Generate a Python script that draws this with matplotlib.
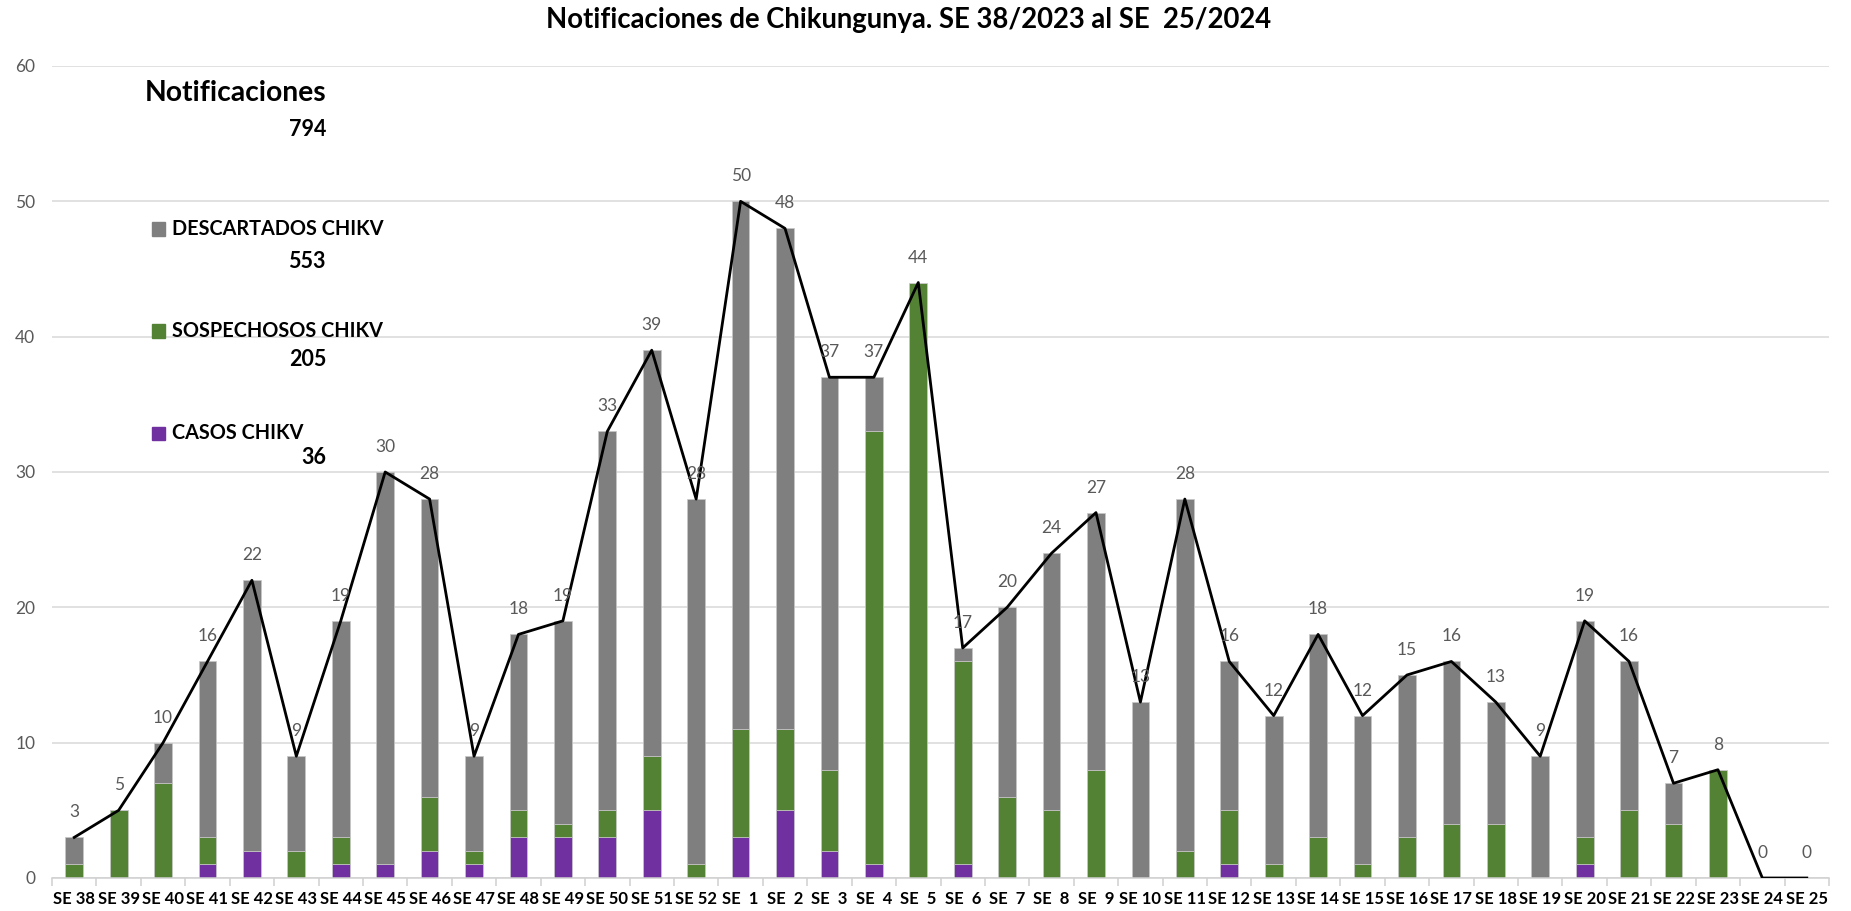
import numpy as np
import matplotlib.pyplot as plt
from matplotlib.ticker import FixedLocator

plt.rcParams['font.family'] = ['Lato', 'DejaVu Sans']

# semanas epidemiologicas
semanas = ['SE 38', 'SE 39', 'SE 40', 'SE 41', 'SE 42', 'SE 43', 'SE 44', 'SE 45',
           'SE 46', 'SE 47', 'SE 48', 'SE 49', 'SE 50', 'SE 51', 'SE 52', 'SE  1',
           'SE  2', 'SE  3', 'SE  4', 'SE  5', 'SE  6', 'SE  7', 'SE  8', 'SE  9',
           'SE 10', 'SE 11', 'SE 12', 'SE 13', 'SE 14', 'SE 15', 'SE 16', 'SE 17',
           'SE 18', 'SE 19', 'SE 20', 'SE 21', 'SE 22', 'SE 23', 'SE 24', 'SE 25']

casos = [0, 0, 0, 1, 2, 0, 1, 1, 2, 1, 3, 3, 3, 5, 0, 3, 5, 2, 1, 0,
         1, 0, 0, 0, 0, 0, 1, 0, 0, 0, 0, 0, 0, 0, 1, 0, 0, 0, 0, 0]
sospechosos = [1, 5, 7, 2, 0, 2, 2, 0, 4, 1, 2, 1, 2, 4, 1, 8, 6, 6, 32, 44,
               15, 6, 5, 8, 0, 2, 4, 1, 3, 1, 3, 4, 4, 0, 2, 5, 4, 8, 0, 0]
descartados = [2, 0, 3, 13, 20, 7, 16, 29, 22, 7, 13, 15, 28, 30, 27, 39, 37, 29, 4, 0,
               1, 14, 19, 19, 13, 26, 11, 11, 15, 11, 12, 12, 9, 9, 16, 11, 3, 0, 0, 0]

c_casos = '#7030a0'
c_sosp = '#548235'
c_desc = '#7f7f7f'

casos = np.array(casos)
sospechosos = np.array(sospechosos)
descartados = np.array(descartados)
total = casos + sospechosos + descartados
x = np.arange(len(semanas))

fig = plt.figure(figsize=(18.51, 9.11), dpi=100)
ax = fig.add_axes([52 / 1851, 1 - 878 / 911, 1777 / 1851, 812 / 911])

w = 0.4
ed = dict(edgecolor='#c8c8c8', linewidth=0.5)
ax.bar(x, casos, w, color=c_casos, zorder=2, **ed)
ax.bar(x, sospechosos, w, bottom=casos, color=c_sosp, zorder=2, **ed)
ax.bar(x, descartados, w, bottom=casos + sospechosos, color=c_desc, zorder=2, **ed)

ax.plot(x, total, color='black', lw=2, zorder=3)
for xi, t in zip(x, total):
    ax.annotate(str(t), (xi, t), xytext=(0, 18), textcoords='offset points',
                ha='center', va='center', fontsize=12.5, color='#595959', zorder=4)

ax.set_xlim(-0.5, len(semanas) - 0.5)
ax.set_ylim(0, 60)
ax.set_yticks(range(0, 61, 10))
ax.grid(axis='y', color='#d9d9d9', lw=1.1, zorder=0)
for s in ['left', 'right', 'top']:
    ax.spines[s].set_visible(False)
ax.spines['bottom'].set_color('#d0d0d0')
ax.spines['bottom'].set_linewidth(1.1)
ax.tick_params(axis='y', length=0, pad=12, labelsize=12.5, labelcolor='#595959')

ax.set_xticks(x)
ax.set_xticklabels(semanas, fontsize=12, fontweight='bold')
ax.tick_params(axis='x', which='major', length=0, pad=9)
ax.xaxis.set_minor_locator(FixedLocator(np.arange(-0.5, len(semanas), 1)))
ax.tick_params(axis='x', which='minor', length=6, color='#d0d0d0', width=1.1)

fig.text(909 / 1851, 1 - 20 / 911, 'Notificaciones de Chikungunya. SE 38/2023 al SE  25/2024',
         ha='center', va='center', fontsize=19.8, fontweight='bold')

# leyenda con totales
def fy(py):
    return 1 - py / 911

fig.text(145 / 1851, fy(93), 'Notificaciones', ha='left', va='center', fontsize=20.3, fontweight='bold')
fig.text(326 / 1851, fy(129), str(total.sum()), ha='right', va='center', fontsize=15.5, fontweight='bold')

items = [('DESCARTADOS CHIKV', descartados, c_desc, 229, 262),
         ('SOSPECHOSOS CHIKV', sospechosos, c_sosp, 331, 359),
         ('CASOS CHIKV', casos, c_casos, 433, 458)]
for nombre, vals, col, yl, yn in items:
    fig.patches.append(plt.Rectangle((152 / 1851, fy(yl + 6.5)), 13 / 1851, 13 / 911,
                                     transform=fig.transFigure, color=col, figure=fig))
    fig.text(172 / 1851, fy(yl), nombre, ha='left', va='center', fontsize=14.3, fontweight='bold')
    fig.text(326 / 1851, fy(yn), str(vals.sum()), ha='right', va='center', fontsize=15.5, fontweight='bold')

fig.savefig('out.png', dpi=100)
